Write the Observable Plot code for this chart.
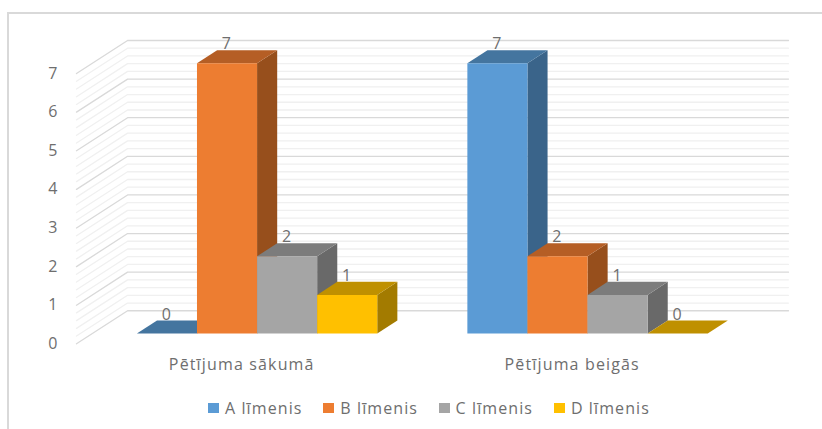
<!DOCTYPE html>
<html lang="lv">
<head>
<meta charset="utf-8">
<script src="https://cdn.jsdelivr.net/npm/d3@7"></script>
<script src="https://cdn.jsdelivr.net/npm/@observablehq/plot@0.6"></script>
<style>
  html, body { margin: 0; padding: 0; background: #fff; }
  #frame { position: relative; width: 822px; height: 429px; overflow: hidden; font-family: "Open Sans", sans-serif; color: #6e6e6e; }
  #frame::before { content: ""; position: absolute; left: 7px; top: 12px; right: 0; bottom: 0; border-left: 2px solid #d9d9d9; border-top: 2px solid #d9d9d9; }
  #frame svg { position: absolute; left: 9px; top: 14px; display: block; background: transparent; }
  #legend { position: absolute; top: 397.5px; left: 208px; display: flex; font-size: 16px; line-height: 20px; letter-spacing: 1.1px; }
  #legend .item { display: flex; align-items: center; width: 115.3px; white-space: nowrap; }
  #legend .swatch { width: 11px; height: 10px; margin-right: 6px; }
</style>
</head>
<body>
<div id="frame"><div id="legend"></div></div>
<script>
// Results by knowledge level, at the start and at the end of the study
const periods = ["Pētījuma sākumā", "Pētījuma beigās"];
const levels = ["A līmenis", "B līmenis", "C līmenis", "D līmenis"];
const startValues = [0, 7, 2, 1];
const endValues = [7, 2, 1, 0];
const periodValues = [startValues, endValues];

const frontColors = ["#5b9bd5", "#ed7d31", "#a5a5a5", "#ffc000"];
const topColors = ["#44759f", "#b55e25", "#7c7c7c", "#bf9000"];
const sideColors = ["#3a648a", "#974f1c", "#696969", "#a37b00"];

const yMax = 7;
const yTicks = d3.range(0, yMax + 1);
const minorTicks = d3.range(0, yMax * 5 + 1).map((i) => i / 5).filter((v) => !Number.isInteger(v));

// Oblique view: a point is (slot along the floor, value, depth 0..1).
// One unit of depth moves right by depthX slots and up by depthY value units.
const depthX = 0.85;
const depthY = 0.856;
const periodSlots = 5.5;
const barGap = 0.74;
const floorSlots = periodSlots * periods.length;
const barFront = 0.312;
const barBack = 0.706;
const project = (slot, value, depth) => ({ px: slot + depthX * depth, py: value + depthY * depth });

// Wall and floor grid lines: up the side wall, then across the back wall
const gridLine = (value) => [project(0, value, 0), project(0, value, 1), project(floorSlots, value, 1)].map((p) => ({ ...p, value }));
const majorGrid = yTicks.flatMap(gridLine);
const minorGrid = minorTicks.flatMap(gridLine);

// Each bar is three flat faces, painted left to right so neighbours overlap properly
const faces = [];
const labels = [];
periodValues.forEach((values, p) => {
  values.forEach((value, s) => {
    const a = p * periodSlots + barGap + s;
    const b = a + 1;
    const id = `${p}-${s}`;
    const face = (name, fill, points) => points.forEach((q) => faces.push({ ...project(...q), id: `${id}-${name}`, fill }));
    face("side", sideColors[s], [[b, 0, barFront], [b, 0, barBack], [b, value, barBack], [b, value, barFront]]);
    face("top", topColors[s], [[a, value, barFront], [a, value, barBack], [b, value, barBack], [b, value, barFront]]);
    face("front", frontColors[s], [[a, 0, barFront], [b, 0, barFront], [b, value, barFront], [a, value, barFront]]);
    labels.push({ ...project(a + 0.5, value, barFront), text: String(value) });
  });
});

const categoryLabels = periods.map((text, p) => ({ ...project((p + 0.5) * periodSlots, 0, 0), text }));

const textColor = "#6e6e6e";
const chart = Plot.plot({
  width: 813,
  height: 381,
  marginTop: 26,
  marginBottom: 51.7,
  marginLeft: 67,
  marginRight: 34,
  style: { background: "transparent", fontFamily: "'Open Sans', sans-serif", letterSpacing: "1.15px" },
  x: { domain: [0, floorSlots + depthX], axis: null },
  y: { domain: [0, yMax + depthY], axis: null },
  color: { type: "identity" },
  marks: [
    Plot.axisY({ ticks: yTicks, tickSize: 0, tickPadding: 18, fontSize: 16, color: textColor, tickFormat: (d) => String(d), label: null }),
    Plot.line(minorGrid, { x: "px", y: "py", z: "value", stroke: "#f0f0f0", strokeWidth: 1.3 }),
    Plot.line(majorGrid, { x: "px", y: "py", z: "value", stroke: "#d9d9d9", strokeWidth: 1.3 }),
    Plot.line(faces, { x: "px", y: "py", z: "id", fill: "fill" }),
    Plot.text(labels, { x: "px", y: "py", text: "text", dy: -19, fontSize: 16, fill: textColor }),
    Plot.text(categoryLabels, { x: "px", y: "py", text: "text", dy: 21.5, fontSize: 16, fill: textColor })
  ]
});
document.getElementById("frame").prepend(chart);

// Legend row under the chart
d3.select("#legend").selectAll(".item").data(levels).join("div").attr("class", "item")
  .each(function (name, i) {
    const item = d3.select(this);
    item.append("span").attr("class", "swatch").style("background", frontColors[i]);
    item.append("span").text(name);
  });
</script>
</body>
</html>
